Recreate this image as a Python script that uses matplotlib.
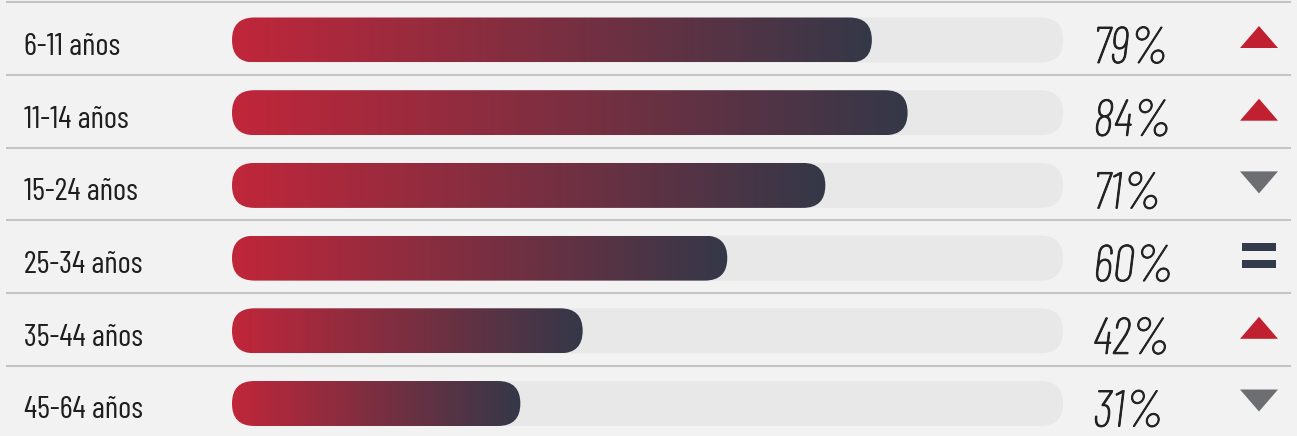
import numpy as np
import matplotlib
matplotlib.use("Agg")
import matplotlib.pyplot as plt
import matplotlib.patheffects as pe
from matplotlib.patches import FancyBboxPatch, Polygon, Rectangle
from matplotlib.colors import LinearSegmentedColormap

# data
labels = ['6-11 años', '11-14 años', '15-24 años', '25-34 años', '35-44 años', '45-64 años']
pct = [79, 84, 71, 60, 42, 31]
# the bars in the source are not drawn exactly to their labels, these are the lengths as measured
fill = [77.0, 81.3, 71.4, 59.6, 42.2, 34.7]
trend = ['up', 'up', 'down', 'same', 'up', 'down']

W, H = 1297, 436
track_l, track_r = 232, 1063    # px
row0, row_h = 40, 72.7           # px
ppx = (track_r - track_l) / 100.0

bg = '#f2f2f2'
red = '#c0202f'
grey = '#6d6e72'
navy = '#333a4b'
fonts = ['Barlow Condensed', 'DejaVu Sans']

def dx(p):
    return p / ppx

def dy(p):
    return p / row_h

fig = plt.figure(figsize=(W / 100, H / 100), dpi=100, facecolor=bg)
ax = fig.add_axes([0, 0, 1, 1])
ax.set_facecolor(bg)
ax.axis('off')

cmap = LinearSegmentedColormap.from_list('bar', ['#c1263a', '#343848'])
grad = np.linspace(0, 1, 256).reshape(1, -1)
hh = dy(22.5)
rs = dx(22.5)
asp = ppx / row_h

for i in range(len(labels)):
    # separator
    ax.plot([dx(6 - track_l), dx(1291 - track_l)], [i - 0.52, i - 0.52],
            color='#c4c4c4', lw=1.5, solid_capstyle='butt')

    track = FancyBboxPatch((0, i - hh), 100, 2 * hh,
                           boxstyle='round,pad=0,rounding_size=%f' % rs,
                           mutation_aspect=asp, fc='#e8e8e8', ec='none', zorder=1)
    ax.add_patch(track)

    v = fill[i]
    bar = FancyBboxPatch((0, i - hh), v, 2 * hh,
                         boxstyle='round,pad=0,rounding_size=%f' % rs,
                         mutation_aspect=asp, fc='none', ec='none')
    ax.add_patch(bar)
    im = ax.imshow(grad, cmap=cmap, extent=(0, v, i + hh, i - hh),
                   aspect='auto', interpolation='bilinear', zorder=2)
    im.set_clip_path(bar)

    ax.text(dx(24 - track_l), i + dy(15), labels[i], fontsize=22.6,
            family=fonts, color='#1e1e1e', va='baseline', ha='left')
    ax.text(dx(1093 - track_l), i + dy(23), '%d%%' % pct[i], fontsize=37,
            family=fonts, style='italic', weight='light', color='#222222',
            va='baseline', ha='left',
            path_effects=[pe.withStroke(linewidth=0.7, foreground='#222222')])

    cx = dx(1259 - track_l)
    cy = i - dy(3)
    hw = dx(19)
    th = dy(11)
    if trend[i] == 'up':
        ax.add_patch(Polygon([(cx - hw, cy + th), (cx + hw, cy + th), (cx, cy - th)],
                             closed=True, fc=red, ec='none'))
    elif trend[i] == 'down':
        ax.add_patch(Polygon([(cx - hw, cy - th), (cx + hw, cy - th), (cx, cy + th)],
                             closed=True, fc=grey, ec='none'))
    else:
        for off in (-8.5, 8.5):
            ax.add_patch(Rectangle((cx - dx(17), cy + dy(off) - dy(4)), dx(34), dy(8),
                                   fc=navy, ec='none'))

ax.set_xlim(-track_l / ppx, (W - track_l) / ppx)
ax.set_ylim((H - row0) / row_h, -row0 / row_h)

fig.savefig('out.png', dpi=100, facecolor=bg)
